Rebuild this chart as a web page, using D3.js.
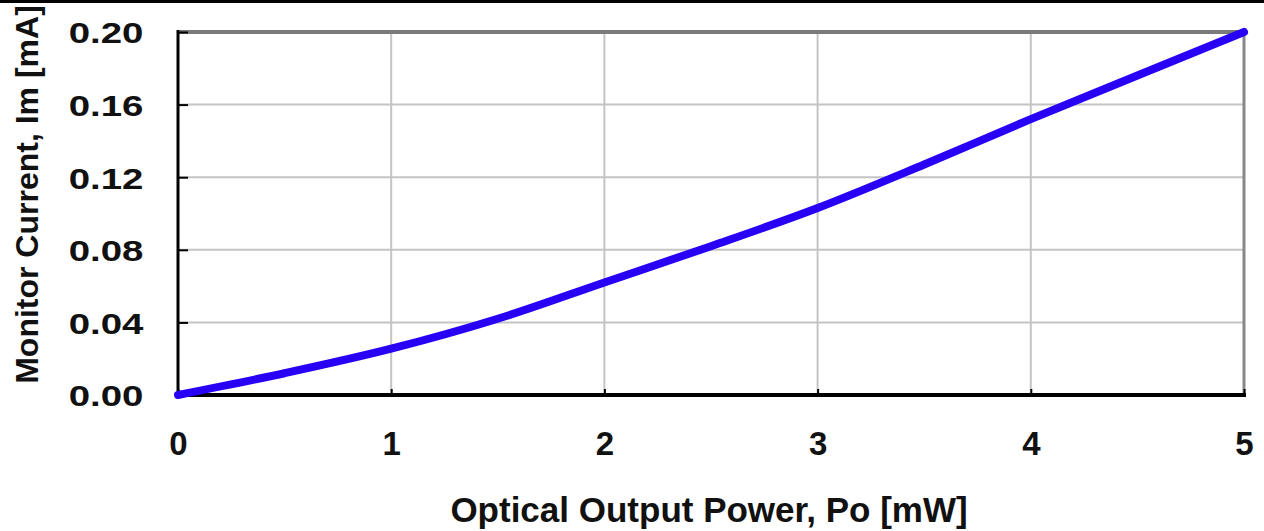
<!DOCTYPE html>
<html>
<head>
<meta charset="utf-8">
<script src="https://cdn.jsdelivr.net/npm/d3@7"></script>
<style>
	body { margin: 0; background: #fff; }
	svg { display: block; }
	.axis text { font-family: "Liberation Sans", Arial, sans-serif; font-weight: bold; fill: #111; }
	.axis .domain { display: none; }
</style>
</head>
<body>
<svg id="chart" width="1264" height="531"></svg>
<script>
(function(){

	// power values (mW) and monitor current (mA)
	var powerMw = [0, 0.5, 1, 1.5, 2, 2.5, 3, 3.5, 4, 4.5, 5];
	var currentMa = [0, 0.012, 0.0255, 0.042, 0.062, 0.082, 0.103, 0.127, 0.152, 0.176, 0.2];

	var xTicks = [0, 1, 2, 3, 4, 5];
	var yTicks = [0, 0.04, 0.08, 0.12, 0.16, 0.20];

	var margin = {top: 32, right: 20, bottom: 136, left: 178};

	var svg = d3.select("#chart");
	var width = +svg.attr("width") - margin.left - margin.right;
	var height = +svg.attr("height") - margin.top - margin.bottom;

	// black band along the very top of the picture
	svg.append("rect")
		.attr("x", 0).attr("y", 0)
		.attr("width", +svg.attr("width")).attr("height", 3)
		.attr("fill", "#000");

	var g = svg.append("g")
		.attr("transform", "translate(" + margin.left + "," + margin.top + ")");

	var x = d3.scaleLinear().domain([0, 5]).range([0, width]);
	var y = d3.scaleLinear().domain([0, 0.2]).range([height, 0]);

	// grid
	g.append("g")
		.selectAll("line")
		.data(xTicks.slice(1, -1))
		.enter().append("line")
			.attr("x1", function(d){ return x(d); })
			.attr("x2", function(d){ return x(d); })
			.attr("y1", 0).attr("y2", height)
			.attr("stroke", "#c4c4c4").attr("stroke-width", 2);

	g.append("g")
		.selectAll("line")
		.data(yTicks.slice(1, -1))
		.enter().append("line")
			.attr("x1", 0).attr("x2", width)
			.attr("y1", function(d){ return y(d); })
			.attr("y2", function(d){ return y(d); })
			.attr("stroke", "#c4c4c4").attr("stroke-width", 2);

	// top and right frame (grey)
	g.append("line")
		.attr("x1", 0).attr("x2", width + 1)
		.attr("y1", y(0.2)).attr("y2", y(0.2))
		.attr("stroke", "#7a7a7a").attr("stroke-width", 4);
	g.append("line")
		.attr("x1", width).attr("x2", width)
		.attr("y1", 0).attr("y2", height)
		.attr("stroke", "#888").attr("stroke-width", 3);

	// axes
	var xAxis = d3.axisBottom(x)
		.tickValues(xTicks)
		.tickFormat(d3.format("d"))
		.tickSize(-6)
		.tickPadding(37);

	var gx = g.append("g")
		.attr("class", "axis axis-x")
		.attr("font-size", 33)
		.attr("transform", "translate(0," + height + ")")
		.call(xAxis);
	gx.selectAll("line").attr("stroke", "#000").attr("stroke-width", 2);
	gx.selectAll("text").style("font-size", "33px");

	var yAxis = d3.axisLeft(y)
		.tickValues(yTicks)
		.tickFormat(d3.format(".2f"))
		.tickSize(-10)
		.tickPadding(27);

	var gy = g.append("g")
		.attr("class", "axis axis-y")
		.call(yAxis);
	gy.selectAll("line").attr("stroke", "#000").attr("stroke-width", 2);
	gy.selectAll("text")
		.style("font-size", "30px")
		.attr("transform", "scale(1.28,1)")
		.attr("dy", "0.36em");

	g.append("line")
		.attr("x1", 0).attr("x2", 0)
		.attr("y1", -2).attr("y2", height + 2)
		.attr("stroke", "#000").attr("stroke-width", 3);
	g.append("line")
		.attr("x1", -1).attr("x2", width + 2)
		.attr("y1", height).attr("y2", height)
		.attr("stroke", "#000").attr("stroke-width", 4);

	// the curve
	var pts = powerMw.map(function(p, i){ return [p, currentMa[i]]; });
	var line = d3.line()
		.x(function(d){ return x(d[0]); })
		.y(function(d){ return y(d[1]); })
		.curve(d3.curveMonotoneX);

	g.append("path")
		.datum(pts)
		.attr("d", line)
		.attr("fill", "none")
		.attr("stroke", "#2800f5")
		.attr("stroke-width", 8)
		.attr("stroke-linecap", "round");

	// axis titles
	svg.append("text")
		.text("Optical Output Power, Po [mW]")
		.attr("x", 709)
		.attr("y", 522)
		.attr("text-anchor", "middle")
		.style("font-family", "Liberation Sans, Arial, sans-serif")
		.style("font-weight", "bold")
		.style("font-size", "35px")
		.attr("fill", "#111");

	svg.append("text")
		.text("Monitor Current, Im [mA]")
		.attr("transform", "translate(38," + (margin.top + height / 2 - 19) + ") rotate(-90)")
		.attr("text-anchor", "middle")
		.style("font-family", "Liberation Sans, Arial, sans-serif")
		.style("font-weight", "bold")
		.style("font-size", "32px")
		.attr("fill", "#111");

})();
</script>
</body>
</html>
